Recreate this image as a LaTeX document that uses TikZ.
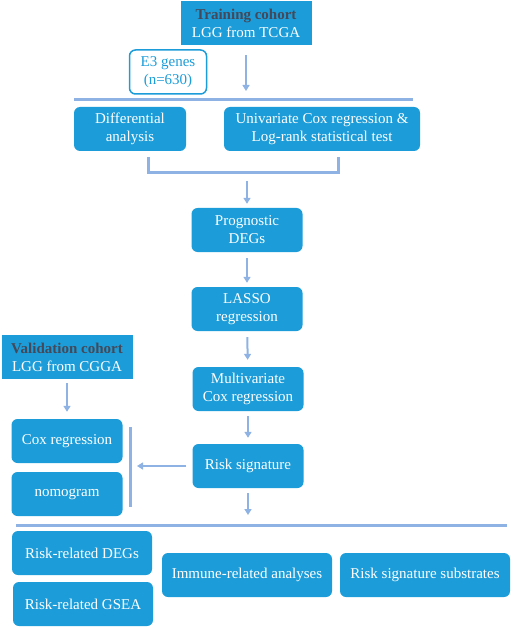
\documentclass[tikz,border=0pt]{standalone}
\usepackage{fontspec}
\setmainfont{Liberation Serif}
\usetikzlibrary{arrows.meta}
\definecolor{boxblue}{RGB}{28,157,217}
\definecolor{lineblue}{RGB}{141,178,227}
\definecolor{headgray}{RGB}{68,72,88}

\begin{document}
\begin{tikzpicture}[x=1pt,y=-1pt,
    every node/.style={align=center, text=white, inner sep=0pt,
      font=\fontsize{15}{18}\selectfont},
    stage/.style={fill=boxblue, rounded corners=6pt, minimum width=111pt, minimum height=44pt},
    cohort/.style={fill=boxblue, minimum width=131pt, minimum height=44pt},
    link/.style={lineblue, line width=2pt, -{Triangle[length=6pt,width=7pt]}},
    rule/.style={lineblue, line width=3pt}]
            \useasboundingbox (0,0) rectangle (512,628);
            % training branch
            \node[cohort] (train) at (246,23) {\textbf{\textcolor{headgray}{Training cohort}}\\LGG from TCGA};
            \node[draw=boxblue, line width=1.5pt, fill=white, text=boxblue, rounded corners=6pt,
              minimum width=77pt, minimum height=44pt] (e3) at (168,72) {E3 genes\\(n=630)};
            \coordinate (topL) at (74,100);
            \coordinate (topR) at (413,100);
            \draw[rule] (topL) -- (topR);
            \draw[link, shorten <=10pt, shorten >=9pt] (train.south) -- (train.south |- topL);
            \node[stage, minimum width=112pt] (diff) at (130,129) {Differential\\analysis};
            \node[stage, minimum width=196pt] (univ) at (322,129) {Univariate Cox regression \&\\Log-rank statistical test};
            \coordinate (brL) at (148,157);
            \coordinate (brR) at (338,157);
            \coordinate (brM) at (247,173);
            \draw[rule] (brL) -- ++(0,16) -| (brR);
            \node[stage] (prog) at (247,230) {Prognostic\\DEGs};
            \node[stage] (lasso) at (247,309) {LASSO\\regression};
            \node[stage] (multi) at (248,389) {Multivariate\\Cox regression};
            \node[stage] (risk) at (248,466) {Risk signature};
            \draw[link, shorten <=8pt, shorten >=4pt] (brM) -- (prog);
            \draw[link, shorten <=6pt, shorten >=4pt] (prog) -- (lasso);
            \draw[link, shorten <=6pt, shorten >=7pt] (lasso) -- (multi);
            \draw[link, shorten <=5pt, shorten >=6pt] (multi) -- (risk);
            %
            \node[cohort] (valid) at (67,357) {\textbf{\textcolor{headgray}{Validation cohort}}\\LGG from CGGA};
            \node[stage] (cox) at (67,441) {Cox regression};
            \node[stage] (nomo) at (67,494) {nomogram};
            \draw[link, shorten <=4pt, shorten >=7pt] (valid) -- (cox);
            \coordinate (vT) at (130,427);
            \coordinate (vB) at (130,507);
            \draw[rule] (vT) -- (vB);
            \draw[link, shorten <=6pt, shorten >=7pt] (risk.west) -- (risk.west -| vT);
            %
            \coordinate (botL) at (16,525);
            \coordinate (botR) at (507,525);
            \draw[rule] (botL) -- (botR);
            \draw[link, shorten <=5pt, shorten >=10pt] (risk.south) -- (risk.south |- botL);
            \node[stage, minimum width=140pt] (rdeg) at (82,553) {Risk-related DEGs};
            \node[stage, minimum width=140pt] (gsea) at (83,604) {Risk-related GSEA};
            \node[stage, minimum width=170pt] (immune) at (247,575) {Immune-related analyses};
            \node[stage, minimum width=170pt] (subst) at (425,575) {Risk signature substrates};
        \end{tikzpicture}
\end{document}
